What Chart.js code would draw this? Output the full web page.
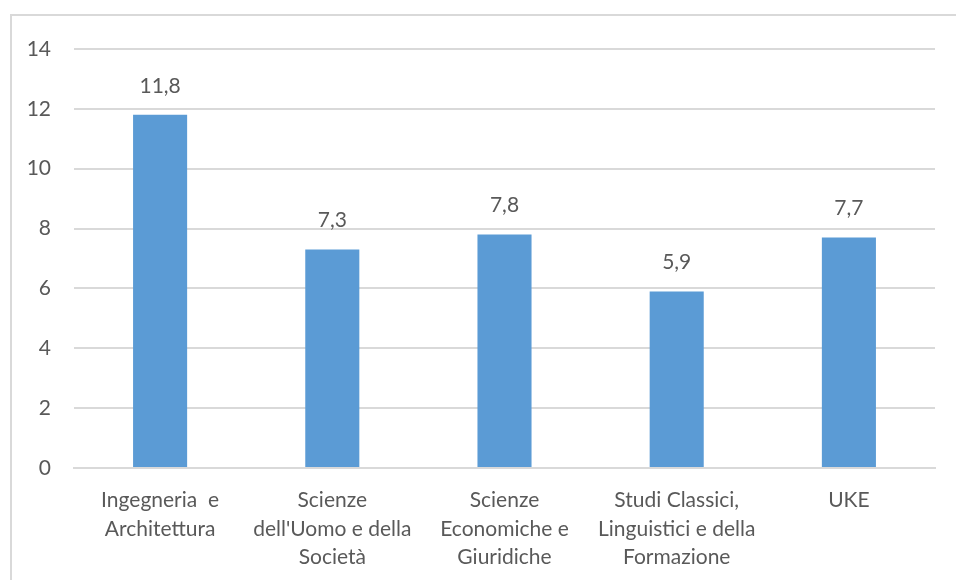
<!DOCTYPE html>
<html>
<head>
<meta charset="utf-8">
<script src="https://cdn.jsdelivr.net/npm/chart.js@4"></script>
<style>
    body { margin: 0; background: #fff; overflow: hidden; }
    #frame {
        position: absolute; left: 10px; top: 14px;
        width: 980px; height: 600px;
        border: 2px solid #d9d9d9;
    }
    #wrap { position: absolute; left: 0; top: 0; width: 956px; height: 580px; }
</style>
</head>
<body>
<div id="frame"></div>
<div id="wrap"><canvas id="chart"></canvas></div>
<script>
// Données
const categories = [
    ['Ingegneria  e', 'Architettura'],
    ['Scienze', "dell'Uomo e della", 'Società'],
    ['Scienze', 'Economiche e', 'Giuridiche'],
    ['Studi Classici,', 'Linguistici e della', 'Formazione'],
    ['UKE']
];
const values = [11.8, 7.3, 7.8, 5.9, 7.7];
const yTicks = [0, 2, 4, 6, 8, 10, 12, 14];

const textColor = '#595959';
const fontFamily = 'Lato, "Open Sans", sans-serif';
const fontSize = 21;

// Étiquettes de valeurs au-dessus des barres
const valueLabels = {
    id: 'valueLabels',
    afterDatasetsDraw(chart) {
        const ctx = chart.ctx;
        const meta = chart.getDatasetMeta(0);
        ctx.save();
        ctx.font = fontSize + 'px ' + fontFamily;
        ctx.fillStyle = textColor;
        ctx.textAlign = 'center';
        ctx.textBaseline = 'middle';
        meta.data.forEach((bar, i) => {
            const txt = values[i].toFixed(1).replace('.', ',');
            ctx.fillText(txt, bar.x, bar.y - 29);
        });
        ctx.restore();
    }
};

new Chart(document.getElementById('chart').getContext('2d'), {
    type: 'bar',
    data: {
        labels: categories,
        datasets: [{
            data: values,
            backgroundColor: '#5B9BD5',
            borderWidth: 0,
            barPercentage: 0.628,
            categoryPercentage: 0.5
        }]
    },
    options: {
        responsive: true,
        maintainAspectRatio: false,
        animation: false,
        layout: { padding: { top: 49, right: 21, left: 0, bottom: 0 } },
        plugins: {
            legend: { display: false },
            tooltip: { enabled: false }
        },
        scales: {
            x: {
                grid: { display: false, drawTicks: false },
                border: { color: '#d9d9d9', width: 2 },
                ticks: {
                    color: textColor,
                    font: { family: fontFamily, size: fontSize, lineHeight: 1.36 },
                    padding: 18,
                    maxRotation: 0,
                    autoSkip: false
                },
                afterFit(scale) { scale.height = 112; }
            },
            y: {
                min: 0,
                max: 14,
                afterBuildTicks(scale) {
                    scale.ticks = yTicks.map(v => ({ value: v }));
                },
                grid: { color: '#d9d9d9', lineWidth: 2, drawTicks: false },
                border: { display: false },
                ticks: {
                    color: textColor,
                    font: { family: fontFamily, size: fontSize },
                    padding: 23
                },
                afterFit(scale) { scale.width = 74; }
            }
        }
    },
    plugins: [valueLabels]
});
</script>
</body>
</html>
